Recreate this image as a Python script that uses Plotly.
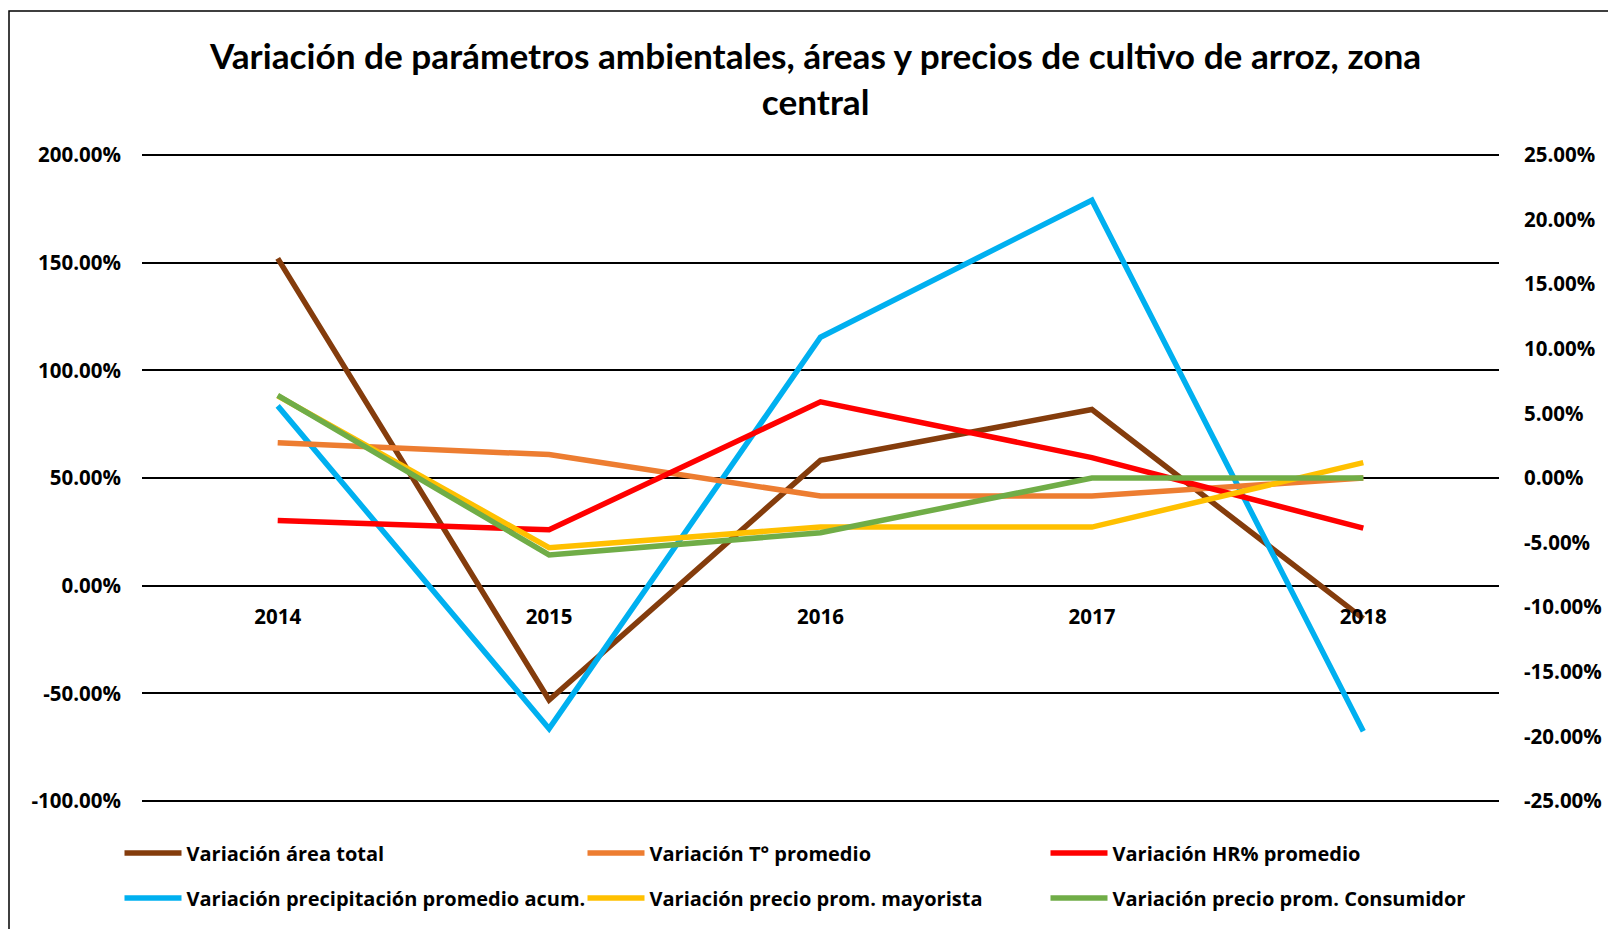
import plotly.graph_objects as go

# Years on the category axis
years = ["2014", "2015", "2016", "2017", "2018"]

# Primary axis series (left scale)
var_area_total = [1.520, -0.531, 0.582, 0.818, -0.153]
var_precipitacion = [0.835, -0.664, 1.154, 1.790, -0.676]

# Secondary axis series (right scale)
var_temperatura = [0.0272, 0.0181, -0.0140, -0.0140, 0.0000]
var_hr = [-0.0329, -0.0401, 0.0590, 0.0158, -0.0388]
var_precio_mayorista = [0.0635, -0.0539, -0.0380, -0.0380, 0.0119]
var_precio_consumidor = [0.0639, -0.0595, -0.0424, 0.0000, 0.0000]

# Axis ticks
left_tickvals = [-1.0, -0.5, 0.0, 0.5, 1.0, 1.5, 2.0]
left_ticktext = ["-100.00%", "-50.00%", "0.00%", "50.00%", "100.00%", "150.00%", "200.00%"]
right_tickvals = [-0.25, -0.20, -0.15, -0.10, -0.05, 0.0, 0.05, 0.10, 0.15, 0.20, 0.25]
right_ticktext = ["-25.00%", "-20.00%", "-15.00%", "-10.00%", "-5.00%", "0.00%",
                  "5.00%", "10.00%", "15.00%", "20.00%", "25.00%"]

TITLE_FONT = "Lato, Calibri, sans-serif"
TEXT_FONT = "Open Sans, Noto Sans, sans-serif"
W, H = 1608, 929

# Gridded area spans x 142..1499 and y 155..801; the plot box is a few
# pixels taller so the outermost gridlines are not clipped at the edges.
EDGE = 3
L, R, T, B = 142, 109, 155 - EDGE, 128 - EDGE
PW, PH = W - L - R, H - T - B
GRID_H = PH - 2 * EDGE

PAD_LEFT = 3.0 * EDGE / GRID_H
PAD_RIGHT = 0.5 * EDGE / GRID_H

# Legend symbol width and the extra room it takes beyond the default
ITEM_W = 57
ITEM_SHIFT = ITEM_W - 30

fig = go.Figure()

def add_line(y, name, color, axis, legend):
    fig.add_trace(go.Scatter(
        x=years, y=y, name=name, mode="lines",
        line=dict(color=color, width=5.5),
        yaxis=axis, legend=legend, legendgroup=name,
    ))

add_line(var_area_total, "Variación área total", "#843C0C", "y", "legend")
add_line(var_precipitacion, "Variación precipitación promedio acum.", "#00B0F0", "y", "legend")
add_line(var_temperatura, "Variación T° promedio", "#ED7D31", "y2", "legend2")
add_line(var_hr, "Variación HR% promedio", "#FF0000", "y2", "legend3")
add_line(var_precio_mayorista, "Variación precio prom. mayorista", "#FFC000", "y2", "legend2")
add_line(var_precio_consumidor, "Variación precio prom. Consumidor", "#70AD47", "y2", "legend3")

tick_font = dict(family=TEXT_FONT, size=20.5, color="black", weight="bold")
legend_font = dict(family=TEXT_FONT, size=20, color="black", weight="bold")

legend_common = dict(
    orientation="v", xref="container", yref="container",
    xanchor="left", yanchor="middle", font=legend_font,
    tracegroupgap=16, bgcolor="rgba(0,0,0,0)", itemwidth=ITEM_W,
    y=1 - 875.5 / H,
)

fig.update_layout(
    width=W, height=H,
    margin=dict(l=L, r=R, t=T, b=B, pad=0, autoexpand=False),
    paper_bgcolor="white", plot_bgcolor="white",
    xaxis=dict(
        type="category", range=[-0.5, 4.5],
        anchor="free", position=(1.0 + PAD_LEFT) / (3.0 + 2 * PAD_LEFT),
        showgrid=False, showline=False, zeroline=False,
        ticks="", ticklabelstandoff=17, tickfont=tick_font,
    ),
    yaxis=dict(
        range=[-1.0 - PAD_LEFT, 2.0 + PAD_LEFT],
        tickvals=left_tickvals, ticktext=left_ticktext,
        showgrid=True, gridcolor="black", gridwidth=1.8,
        zeroline=False, showline=False, ticks="",
        ticklabelstandoff=20, tickfont=tick_font,
    ),
    yaxis2=dict(
        range=[-0.25 - PAD_RIGHT, 0.25 + PAD_RIGHT],
        tickvals=right_tickvals, ticktext=right_ticktext,
        overlaying="y", side="right", showgrid=False,
        zeroline=False, showline=False, ticks="",
        ticklabelstandoff=24, tickfont=tick_font,
    ),
    legend=dict(x=(146.5 - ITEM_SHIFT) / W, **legend_common),
    legend2=dict(x=(609.5 - ITEM_SHIFT) / W, **legend_common),
    legend3=dict(x=(1072.5 - ITEM_SHIFT) / W, **legend_common),
    annotations=[dict(
        text="Variación de parámetros ambientales, áreas y precios de cultivo de arroz, zona<br>central",
        xref="paper", yref="paper",
        x=(815 - L) / PW, y=(H - B - 78.5) / PH,
        xanchor="center", yanchor="middle", showarrow=False,
        font=dict(family=TITLE_FONT, size=35.2, color="black", weight="bold"),
    )],
    shapes=[dict(
        type="rect", xref="paper", yref="paper",
        x0=(9 - L) / PW, x1=1.2,
        y0=-0.5, y1=(H - B - 11) / PH,
        line=dict(color="black", width=1.5), fillcolor="rgba(0,0,0,0)",
        layer="below",
    )],
)

fig.write_html("out.html")
